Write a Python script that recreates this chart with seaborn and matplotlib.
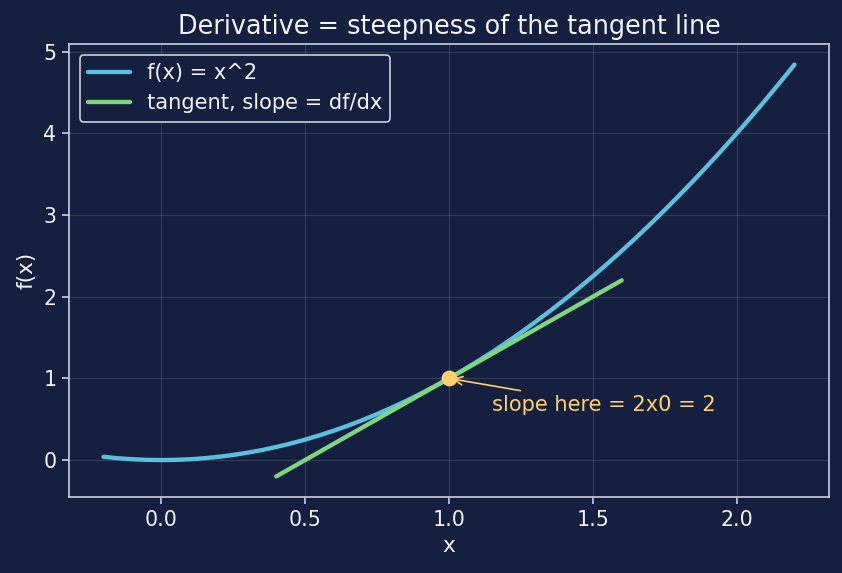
import seaborn as sns
import matplotlib.pyplot as plt

# curve f(x) = x^2
curve_x = [-0.2, -0.15, -0.1, -0.05, 0.0, 0.05, 0.1, 0.15, 0.2, 0.25, 0.3, 0.35,
           0.4, 0.45, 0.5, 0.55, 0.6, 0.65, 0.7, 0.75, 0.8, 0.85, 0.9, 0.95,
           1.0, 1.05, 1.1, 1.15, 1.2, 1.25, 1.3, 1.35, 1.4, 1.45, 1.5, 1.55,
           1.6, 1.65, 1.7, 1.75, 1.8, 1.85, 1.9, 1.95, 2.0, 2.05, 2.1, 2.15, 2.2]
curve_y = [0.04, 0.0225, 0.01, 0.0025, 0.0, 0.0025, 0.01, 0.0225, 0.04, 0.0625, 0.09, 0.1225,
           0.16, 0.2025, 0.25, 0.3025, 0.36, 0.4225, 0.49, 0.5625, 0.64, 0.7225, 0.81, 0.9025,
           1.0, 1.1025, 1.21, 1.3225, 1.44, 1.5625, 1.69, 1.8225, 1.96, 2.1025, 2.25, 2.4025,
           2.56, 2.7225, 2.89, 3.0625, 3.24, 3.4225, 3.61, 3.8025, 4.0, 4.2025, 4.41, 4.6225, 4.84]

# tangent at x = 1
tangent_x = [0.4, 1.6]
tangent_y = [-0.2, 2.2]

point_x = [1.0]
point_y = [1.0]

bg = '#152040'
fg = '#f2f4f8'
edge = '#c8d0e0'

sns.set_theme(style='dark')
plt.rcParams.update({
    'figure.facecolor': bg,
    'axes.facecolor': bg,
    'axes.edgecolor': edge,
    'axes.labelcolor': fg,
    'text.color': fg,
    'xtick.color': fg,
    'ytick.color': fg,
})
plt.rcParams['font.family'] = ['DejaVu Sans']

fig, ax = plt.subplots(figsize=(842 / 120, 573 / 120), dpi=120)
fig.subplots_adjust(left=69 / 842, right=829 / 842, top=1 - 44 / 573, bottom=1 - 497 / 573)

sns.lineplot(x=curve_x, y=curve_y, ax=ax, color='#5bc0de', linewidth=2.6, label='f(x) = x^2')
sns.lineplot(x=tangent_x, y=tangent_y, ax=ax, color='#7fd67f', linewidth=2.6,
             label='tangent, slope = df/dx')
ax.plot(point_x, point_y, 'o', color='#ffd166', markersize=8.5, zorder=5)

ax.annotate('slope here = 2x0 = 2', xy=(1.0, 1.0), xytext=(1.15, 0.6),
            color='#ffd166', fontsize=12.6,
            arrowprops=dict(arrowstyle='->', color='#ffd166', lw=1))

ax.grid(True, color='#ffffff', alpha=0.12, linewidth=0.8)
ax.tick_params(axis='both', labelsize=12.3, length=4, width=1, color=edge, bottom=True, left=True)
for s in ax.spines.values():
    s.set_visible(True)
    s.set_color(edge)
    s.set_linewidth(1)

ax.set_title('Derivative = steepness of the tangent line', fontsize=15.3, color=fg)
ax.set_xlabel('x', fontsize=13)
ax.set_ylabel('f(x)', fontsize=13)

leg = ax.legend(loc='upper left', fontsize=12.6, facecolor=bg, edgecolor=edge, framealpha=1)
for t in leg.get_texts():
    t.set_color(fg)

fig.savefig('out.png', dpi=120, facecolor=bg)
